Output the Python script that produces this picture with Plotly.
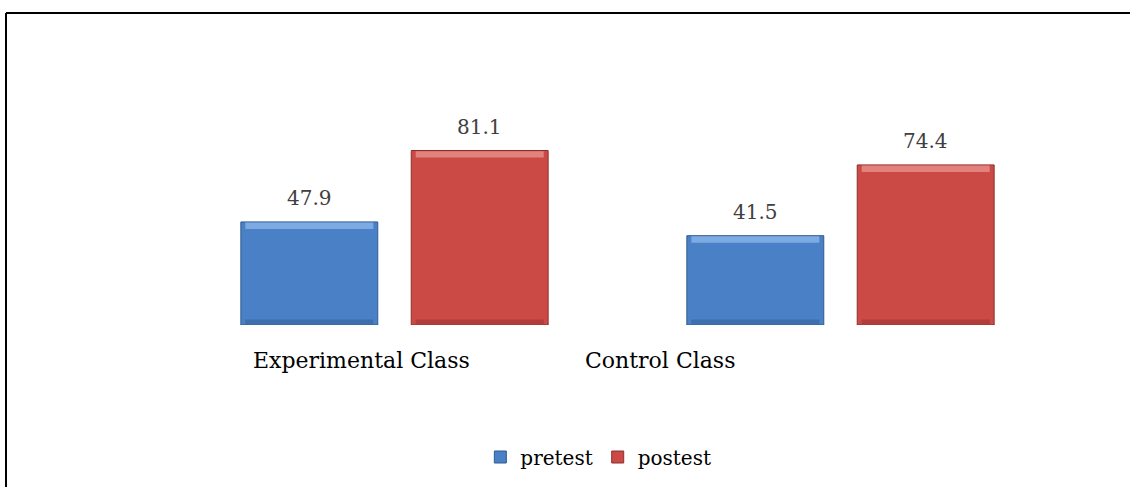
import plotly.graph_objects as go

categories = ["Experimental Class", "Control Class"]
pretest = [47.9, 41.5]
postest = [81.1, 74.4]
series_names = ["pretest", "postest"]

W, H = 1130, 487
FONT = "DejaVu Serif"

# pixel geometry of the plotting area
x_left, x_right = 171.5, 1063.5
y_base, y_top = 325, 13
y_max = 145

bar_w = 0.307
offsets = [-0.3445, 0.0375]
fills = ["#4a80c6", "#cc4a45"]
edges = ["#2f5a8f", "#8e2e2b"]
lights = ["#8fb8ec", "#e99591"]
darks = ["#3a6aa6", "#a93a36"]

fig = go.Figure()

for vals, name, off, fill, edge, light, dark in zip(
        [pretest, postest], series_names, offsets, fills, edges, lights, darks):
    # main body of each bar
    fig.add_trace(go.Bar(
        x=categories, y=vals, name=name, width=bar_w, offset=off,
        marker=dict(color=fill, line=dict(color=edge, width=1)),
    ))
    # lighter bevel band along the top edge
    fig.add_trace(go.Bar(
        x=categories, y=[3.0] * len(vals), base=[v - 3.3 for v in vals],
        width=bar_w - 0.02, offset=off + 0.01, showlegend=False,
        marker=dict(color=light, opacity=0.75, line=dict(width=0)),
        hoverinfo="skip",
    ))
    # darker band along the bottom edge
    fig.add_trace(go.Bar(
        x=categories, y=[2.2] * len(vals), base=[0.3] * len(vals),
        width=bar_w - 0.02, offset=off + 0.01, showlegend=False,
        marker=dict(color=dark, opacity=0.8, line=dict(width=0)),
        hoverinfo="skip",
    ))
    # value labels above each bar
    for i, v in enumerate(vals):
        fig.add_annotation(
            x=i + off + bar_w / 2, y=v, xref="x", yref="y",
            yanchor="middle", yshift=24, text=f"{v:.1f}", showarrow=False,
            font=dict(family=FONT, size=20, color="#404040"),
        )

# category labels sit under the groups, shifted left
label_shift = [-0.073, -0.405]
for i, (cat, s) in enumerate(zip(categories, label_shift)):
    fig.add_annotation(
        x=i + s, y=0, xref="x", yref="y", yshift=-35,
        text=cat, showarrow=False,
        font=dict(family=FONT, size=22, color="#000000"),
    )

# outer frame: top and left edges
frame = dict(color="#000000", width=2)
fig.add_shape(type="line", xref="paper", yref="paper",
              x0=6 / W, x1=1.0, y0=(H - 13) / H, y1=(H - 13) / H, line=frame)
fig.add_shape(type="line", xref="paper", yref="paper",
              x0=6 / W, x1=6 / W, y0=0, y1=(H - 13) / H, line=frame)

fig.update_layout(
    width=W, height=H,
    margin=dict(l=0, r=0, t=0, b=0),
    paper_bgcolor="white", plot_bgcolor="white",
    barmode="overlay",
    showlegend=True,
    legend=dict(orientation="h", x=0.5295, xanchor="center", y=(H - 457) / H,
                yanchor="middle", font=dict(family=FONT, size=20, color="#000000"),
                itemwidth=30, traceorder="normal"),
    xaxis=dict(domain=[x_left / W, x_right / W], showticklabels=False,
               showgrid=False, zeroline=False, showline=False, ticks=""),
    yaxis=dict(domain=[(H - y_base) / H, (H - y_top) / H], range=[0, y_max],
               showticklabels=False, showgrid=False, zeroline=False,
               showline=False, ticks=""),
)

fig.write_html("out.html")
